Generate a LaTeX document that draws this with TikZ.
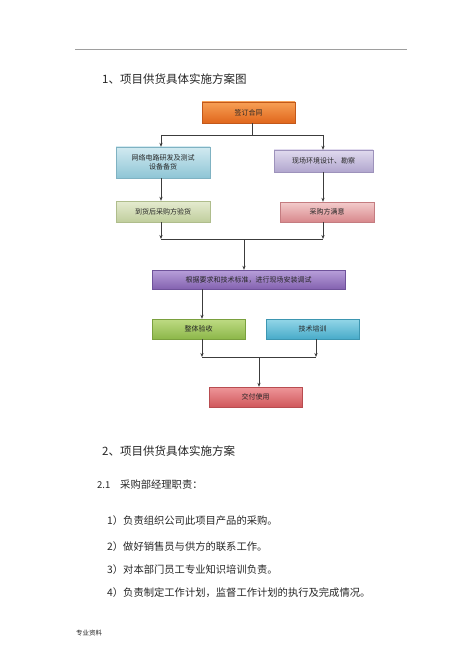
\documentclass[tikz,border=0pt]{standalone}
\usepackage{fontspec}
\setmainfont{Noto Sans CJK SC}
\usetikzlibrary{arrows.meta,shadows}
\definecolor{linec}{HTML}{3C3C3C}
\tikzset{
  box/.style={rectangle, inner sep=0pt, minimum width=93pt, minimum height=20pt, align=center,
    font=\fontsize{7}{9}\selectfont, text=black!85, line width=0.4pt,
    drop shadow={opacity=0.35, shadow xshift=0.6pt, shadow yshift=-0.8pt}},
  conn/.style={draw=linec, line width=0.8pt},
  arr/.style={conn, -{Stealth[length=4pt,width=3.2pt]}},
  title/.style={anchor=west, inner sep=0pt, font=\fontsize{11.5}{13}\selectfont, text=black!85},
  body/.style={anchor=west, inner sep=0pt, font=\fontsize{10.3}{12}\selectfont, text=black!85},
}
\definecolor{or1}{HTML}{F7A055}\definecolor{or2}{HTML}{E0661C}\definecolor{or3}{HTML}{C2581A}
\definecolor{bl1}{HTML}{D2EAF1}\definecolor{bl2}{HTML}{8EC5D5}\definecolor{bl3}{HTML}{7FB2C2}
\definecolor{lv1}{HTML}{E0DAEE}\definecolor{lv2}{HTML}{B1A6CE}\definecolor{lv3}{HTML}{9D92BB}
\definecolor{lg1}{HTML}{E5EBD0}\definecolor{lg2}{HTML}{C0CE9D}\definecolor{lg3}{HTML}{AFBD8C}
\definecolor{pk1}{HTML}{F3CCCC}\definecolor{pk2}{HTML}{D8888C}\definecolor{pk3}{HTML}{C47C80}
\definecolor{pu1}{HTML}{B8A0DA}\definecolor{pu2}{HTML}{8462B0}\definecolor{pu3}{HTML}{6F529A}
\definecolor{gr1}{HTML}{BEDB84}\definecolor{gr2}{HTML}{8CB749}\definecolor{gr3}{HTML}{7AA03E}
\definecolor{cy1}{HTML}{93D6E8}\definecolor{cy2}{HTML}{48ABC9}\definecolor{cy3}{HTML}{3D96B1}
\definecolor{rd1}{HTML}{EE9699}\definecolor{rd2}{HTML}{D0585C}\definecolor{rd3}{HTML}{B84C50}
\begin{document}
\begin{tikzpicture}[x=1pt,y=-1pt]
\useasboundingbox[fill=white] (0,0) rectangle (474,671);
% header rule
\draw[draw=black!38, line width=1pt] (75,50) -- (407,50);
\node[title] (t1) at (102,79) {1、项目供货具体实施方案图};
% boxes
\node[box, top color=or1, bottom color=or2, draw=or3, minimum width=93pt, minimum height=21pt] (sign) at (248.5,112.5) {签订合同};
\node[box, top color=bl1, bottom color=bl2, draw=bl3, minimum width=94pt, minimum height=31pt] (net) at (163,162.5) {网络电路研发及测试\\设备备货};
\node[box, top color=lv1, bottom color=lv2, draw=lv3, minimum width=99pt, minimum height=22pt] (site) at (323.5,161) {现场环境设计、勘察};
\node[box, top color=lg1, bottom color=lg2, draw=lg3, minimum width=94pt, minimum height=21pt] (check) at (163,211.5) {到货后采购方验货};
\node[box, top color=pk1, bottom color=pk2, draw=pk3, minimum width=94pt, minimum height=20pt] (sat) at (327,212) {采购方满意};
\node[box, top color=pu1, bottom color=pu2, draw=pu3, minimum width=193pt, minimum height=19pt] (inst) at (248.5,279.5) {根据要求和技术标准，进行现场安装调试};
\node[box, top color=gr1, bottom color=gr2, draw=gr3] (whole) at (198.5,329) {整体验收};
\node[box, top color=cy1, bottom color=cy2, draw=cy3] (train) at (312.5,329) {技术培训};
\node[box, top color=rd1, bottom color=rd2, draw=rd3] (deliv) at (255.5,397) {交付使用};
% junction coordinates
\coordinate (j1) at (252,135);
\coordinate (j1l) at (161,135);
\coordinate (j1r) at (323,135);
\coordinate (j2l) at (161,239);
\coordinate (j2r) at (323,239);
\coordinate (j2) at (244,239);
\coordinate (j3l) at (202,357);
\coordinate (j3r) at (316,357);
\coordinate (j3) at (259,357);
% connectors
\draw[conn] (sign.south -| j1) -- (j1);
\draw[conn] (j1l) -- (j1r);
\draw[arr] (j1l) -- (j1l |- net.north);
\draw[arr] (j1r) -- (j1r |- site.north);
\draw[arr] (net.south -| j1l) -- (j1l |- check.north);
\draw[arr] (site.south -| j1r) -- (j1r |- sat.north);
\draw[arr] (check.south -| j2l) -- (j2l);
\draw[arr] (sat.south -| j2r) -- (j2r);
\draw[conn] (j2l) -- (j2r);
\draw[arr] (j2) -- (j2 |- inst.north);
\draw[arr] (inst.south -| j3l) -- (j3l |- whole.north);
\draw[arr] (whole.south -| j3l) -- (j3l);
\draw[arr] (train.south -| j3r) -- (j3r);
\draw[conn] (j3l) -- (j3r);
\draw[arr] (j3) -- (j3 |- deliv.north);
% text section
\node[title] (t2) at (102,451) {2、项目供货具体实施方案};
\node[body, font=\fontsize{9.5}{11}\selectfont] (s21) at (97,485) {2.1};
\node[body] (s21t) at (120,485) {采购部经理职责：};
\node[body] (i1) at (107,521) {1）负责组织公司此项目产品的采购。};
\node[body] (i2) at (107,547) {2）做好销售员与供方的联系工作。};
\node[body] (i3) at (107,570) {3）对本部门员工专业知识培训负责。};
\node[body] (i4) at (107,593) {4）负责制定工作计划，监督工作计划的执行及完成情况。};
\node[body, font=\fontsize{6.5}{8}\selectfont] (foot) at (76,633) {专业资料};
\end{tikzpicture}
\end{document}
